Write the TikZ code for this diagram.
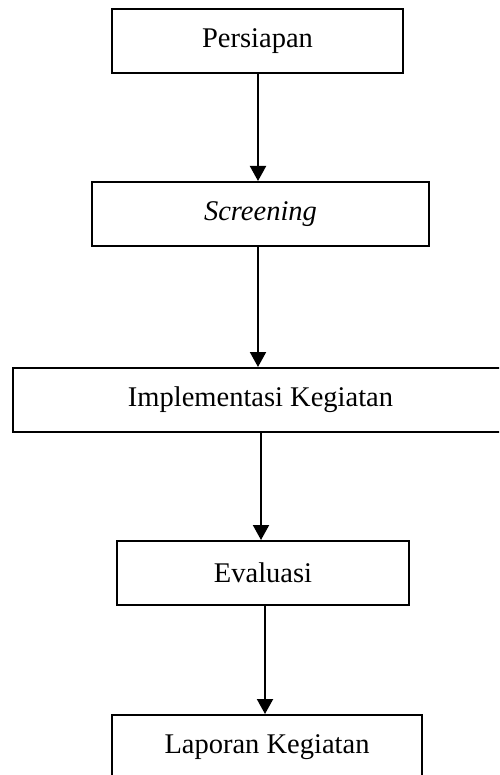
\documentclass[tikz,border=0pt]{standalone}
\usepackage{fontspec}
\setmainfont{Liberation Serif}
\usetikzlibrary{arrows.meta}
\begin{document}
\begin{tikzpicture}[x=1pt,y=-1pt,
  stepbox/.style={draw=black,line width=2pt,rectangle,inner sep=0pt,
    font=\fontsize{28.5}{34}\selectfont,text=black},
  arr/.style={line width=2pt,-{Triangle[width=16pt,length=15pt]}}]
\useasboundingbox (0,0) rectangle (499,775);
\clip (0,0) rectangle (499,775);
\node[stepbox,minimum width=291pt,minimum height=64pt] (n1) at (257.5,41) {Persiapan};
\node[stepbox,minimum width=337pt,minimum height=64pt] (n2) at (260.5,214) {\itshape Screening};
\node[stepbox,minimum width=495pt,minimum height=64pt] (n3) at (260.5,400) {Implementasi Kegiatan};
\node[stepbox,minimum width=292pt,minimum height=64pt] (n4) at (263,573) {Evaluasi};
\node[stepbox,minimum width=310pt,minimum height=64pt] (n5) at (267,747) {Laporan Kegiatan};
\draw[arr] (n1.south -| 258,0) -- (n2.north -| 258,0);
\draw[arr] (n2.south -| 258,0) -- (n3.north -| 258,0);
\draw[arr] (n3.south -| 261,0) -- (n4.north -| 261,0);
\draw[arr] (n4.south -| 265,0) -- (n5.north -| 265,0);
\end{tikzpicture}
\end{document}
